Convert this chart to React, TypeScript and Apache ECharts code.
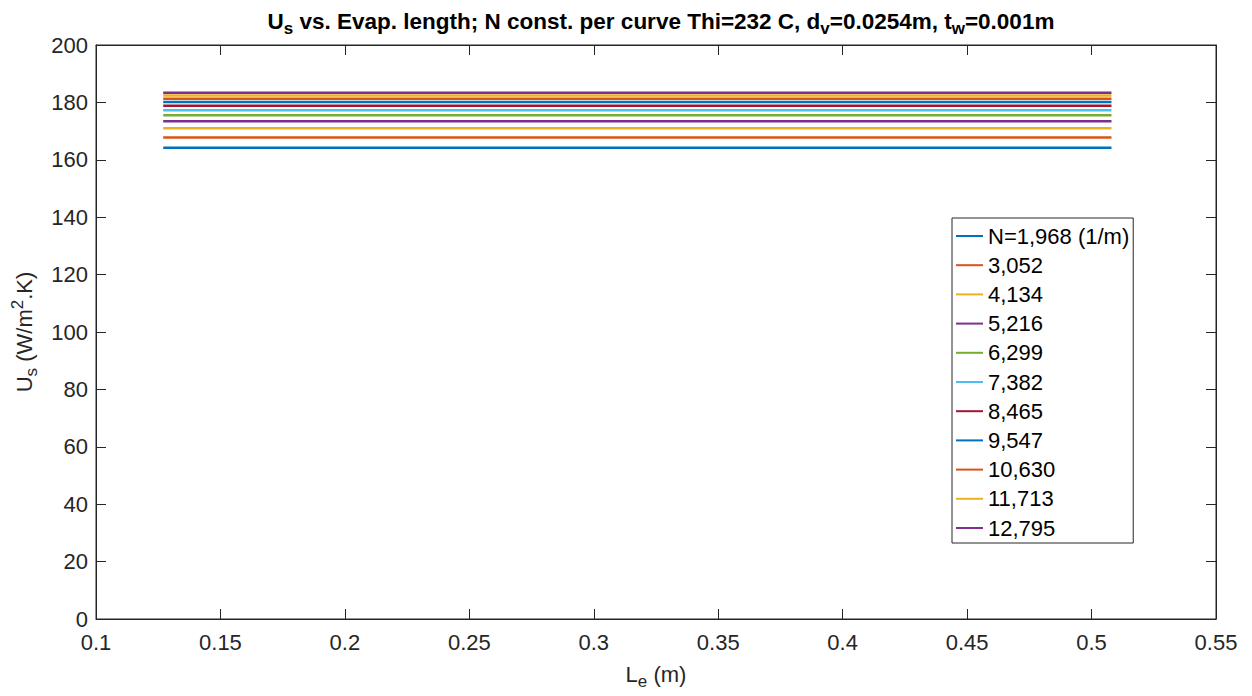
import React, { useEffect, useRef } from "react";
import * as echarts from "echarts";

const lengths = [0.127, 0.508];
const seriesNames = ["N=1,968 (1/m)", "3,052", "4,134", "5,216", "6,299", "7,382", "8,465", "9,547", "10,630", "11,713", "12,795"];
const usValues = [164.2, 167.8, 171.0, 173.4, 175.5, 177.3, 178.8, 180.1, 181.3, 182.4, 183.4];
const colors = ["#0072BD", "#D95319", "#EDB120", "#7E2F8E", "#77AC30", "#4DBEEE", "#A2142F", "#0072BD", "#D95319", "#EDB120", "#7E2F8E"];

const FONT = "'Liberation Sans', Arial, Helvetica, sans-serif";
const AX = "#262626";

export default function App() {
  const ref = useRef<HTMLDivElement>(null);
  useEffect(() => {
    if (!ref.current) return;
    const chart = echarts.init(ref.current, undefined, { renderer: "svg" });
    const fmt = (v: number) => String(parseFloat(Number(v).toFixed(2)));
    const gridBox = { left: 96, right: 36, top: 45, bottom: 77 };
    const xBase = {
      type: "value" as const,
      min: 0.1,
      max: 0.55,
      interval: 0.05,
      axisLine: { show: true, onZero: false, lineStyle: { color: AX, width: 1 } },
      axisTick: { show: true, inside: true, length: 10, lineStyle: { color: AX } },
      splitLine: { show: false },
    };
    const yBase = {
      type: "value" as const,
      min: 0,
      max: 200,
      interval: 20,
      axisLine: { show: true, onZero: false, lineStyle: { color: AX, width: 1 } },
      axisTick: { show: true, inside: true, length: 10, lineStyle: { color: AX } },
      splitLine: { show: false },
    };
    chart.setOption({
      animation: false,
      backgroundColor: "#ffffff",
      title: {
        text: "{n|U}{sub|s}{n| vs. Evap. length; N const. per curve Thi=232 C, d}{sub|v}{n|=0.0254m, t}{sub|w}{n|=0.001m}",
        left: 656,
        textAlign: "center",
        top: 1,
        textStyle: {
          rich: {
            n: { fontFamily: FONT, fontSize: 22.5, fontWeight: "bold", color: "#000" },
            sub: { fontFamily: FONT, fontSize: 17, fontWeight: "bold", color: "#000", padding: [14, 0, 0, 0] },
          },
        },
      },
      grid: { ...gridBox, show: true, borderColor: AX, borderWidth: 1, backgroundColor: "#fff" },
      legend: {
        orient: "vertical",
        left: 952,
        top: 218,
        data: seriesNames,
        icon: "rect",
        itemWidth: 27,
        itemHeight: 2,
        itemGap: 7.2,
        padding: [7, 4, 4, 4],
        borderColor: AX,
        borderWidth: 1,
        backgroundColor: "#fff",
        textStyle: { fontFamily: FONT, fontSize: 22, color: "#000", lineHeight: 22 },
      },
      xAxis: [
        {
          ...xBase,
          position: "bottom",
          axisLabel: { show: true, formatter: fmt, fontFamily: FONT, fontSize: 22, color: AX, margin: 12 },
          name: "{n|L}{sub|e}{n| (m)}",
          nameLocation: "middle",
          nameGap: 40,
          nameTextStyle: {
            rich: {
              n: { fontFamily: FONT, fontSize: 22, color: AX },
              sub: { fontFamily: FONT, fontSize: 17, color: AX, padding: [14, 0, 0, 0] },
            },
          },
        },
        { ...xBase, position: "top", axisLabel: { show: false } },
      ],
      yAxis: [
        {
          ...yBase,
          position: "left",
          axisLabel: { show: true, fontFamily: FONT, fontSize: 22, color: AX, margin: 8 },
          name: "{n|U}{sub|s}{n| (W/m}{sup|2}{n|.K)}",
          nameLocation: "middle",
          nameGap: 56,
          nameRotate: 90,
          nameTextStyle: {
            rich: {
              n: { fontFamily: FONT, fontSize: 22, color: AX },
              sub: { fontFamily: FONT, fontSize: 17, color: AX, padding: [14, 0, 0, 0] },
              sup: { fontFamily: FONT, fontSize: 17, color: AX, padding: [0, 0, 14, 0] },
            },
          },
        },
        { ...yBase, position: "right", axisLabel: { show: false } },
      ],
      series: seriesNames.map((name, i) => ({
        name,
        type: "line",
        xAxisIndex: 0,
        yAxisIndex: 0,
        symbol: "none",
        color: colors[i],
        lineStyle: { width: 2.5, color: colors[i] },
        data: lengths.map((x) => [x, usValues[i]]),
      })),
    });
    return () => chart.dispose();
  }, []);
  return <div ref={ref} style={{ position: "fixed", left: 0, top: 0, width: 1252, height: 696 }} />;
}
